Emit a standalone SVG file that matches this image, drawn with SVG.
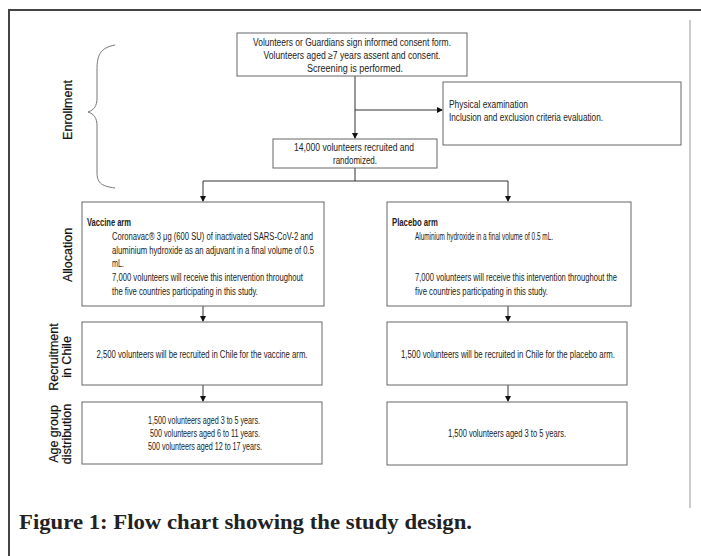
<svg xmlns="http://www.w3.org/2000/svg" width="701" height="556" viewBox="0 0 701 556">
<style>
.box{fill:#fff;stroke:#666;stroke-width:1}
.ln{fill:none;stroke:#333;stroke-width:1}
.t{font-family:"Liberation Sans",Arial,sans-serif;font-size:10px;fill:#222}
.c{text-anchor:middle}
.b{font-weight:bold}
.side{font-family:"Liberation Sans",Arial,sans-serif;font-size:12.5px;fill:#111;text-anchor:middle;stroke:#111;stroke-width:0.2}
.cap{font-family:"Liberation Serif","Times New Roman",serif;font-size:21px;font-weight:bold;fill:#222}
</style>
<defs>
<marker id="ar" markerWidth="6" markerHeight="6" refX="5" refY="3" orient="auto" markerUnits="userSpaceOnUse">
<path d="M0,0 L6,3 L0,6 Z" fill="#111"/>
</marker>
</defs>
<rect width="701" height="556" fill="#fff"/>
<g id="frame">
<path d="M9,556 V10 H701" fill="none" stroke="#444" stroke-width="2"/>
<path d="M690,20 V508" fill="none" stroke="#999" stroke-width="1"/>
</g>
<g id="labels">
<path d="M115,45 C100,48 97,55 97,70 V98 C97,106 94,110 88,112 C94,114 97,118 97,126 V172 C97,182 100,186 115,188" fill="none" stroke="#777" stroke-width="1"/>
<text class="side" transform="translate(72,110) rotate(-90)">Enrollment</text>
<text class="side" transform="translate(72,255) rotate(-90)">Allocation</text>
<text class="side" transform="translate(58,357) rotate(-90)">Recruitment</text>
<text class="side" transform="translate(71,357) rotate(-90)">in Chile</text>
<text class="side" transform="translate(58,434) rotate(-90)">Age group</text>
<text class="side" transform="translate(71,434) rotate(-90)">distribution</text>
</g>
<g id="connectors">
<path class="ln" d="M355,76 V138" marker-end="url(#ar)"/>
<path class="ln" d="M355,110 H442" marker-end="url(#ar)"/>
<path class="ln" d="M355,168 V181 M203,181 H508"/>
<path class="ln" d="M203,181 V201" marker-end="url(#ar)"/>
<path class="ln" d="M508,181 V201" marker-end="url(#ar)"/>
<path class="ln" d="M203,306 V321" marker-end="url(#ar)"/>
<path class="ln" d="M508,306 V321" marker-end="url(#ar)"/>
<path class="ln" d="M203,385 V401" marker-end="url(#ar)"/>
<path class="ln" d="M508,385 V401" marker-end="url(#ar)"/>
</g>
<g id="consent">
<rect class="box" x="237" y="33" width="230" height="43"/>
<text class="t c" x="352" y="46" textLength="198" lengthAdjust="spacingAndGlyphs">Volunteers or Guardians sign informed consent form.</text>
<text class="t c" x="352" y="59" textLength="177" lengthAdjust="spacingAndGlyphs">Volunteers aged ≥7 years assent and consent.</text>
<text class="t c" x="355" y="72" textLength="96" lengthAdjust="spacingAndGlyphs">Screening is performed.</text>
</g>
<g id="physical">
<rect class="box" x="443" y="82" width="238" height="63"/>
<text class="t" x="449" y="108" textLength="79" lengthAdjust="spacingAndGlyphs">Physical examination</text>
<text class="t" x="449" y="121" textLength="154" lengthAdjust="spacingAndGlyphs">Inclusion and exclusion criteria evaluation.</text>
</g>
<g id="randomized">
<rect class="box" x="273" y="139" width="164" height="29"/>
<text class="t c" x="354" y="151" textLength="120" lengthAdjust="spacingAndGlyphs">14,000 volunteers recruited and</text>
<text class="t c" x="355" y="164" textLength="44" lengthAdjust="spacingAndGlyphs">randomized.</text>
</g>
<g id="vaccine">
<rect class="box" x="82" y="202" width="242" height="104"/>
<text class="t b" x="87" y="226" textLength="44" lengthAdjust="spacingAndGlyphs">Vaccine arm</text>
<text class="t" x="112" y="240" textLength="201" lengthAdjust="spacingAndGlyphs">Coronavac® 3 μg (600 SU) of inactivated SARS-CoV-2 and</text>
<text class="t" x="112" y="254" textLength="202" lengthAdjust="spacingAndGlyphs">aluminium hydroxide as an adjuvant in a final volume of 0.5</text>
<text class="t" x="112" y="267" textLength="12" lengthAdjust="spacingAndGlyphs">mL.</text>
<text class="t" x="112" y="281" textLength="191" lengthAdjust="spacingAndGlyphs">7,000 volunteers will receive this intervention throughout</text>
<text class="t" x="112" y="295" textLength="146" lengthAdjust="spacingAndGlyphs">the five countries participating in this study.</text>
</g>
<g id="placebo">
<rect class="box" x="387" y="202" width="244" height="104"/>
<text class="t b" x="392" y="226" textLength="46" lengthAdjust="spacingAndGlyphs">Placebo arm</text>
<text class="t" x="415" y="240" textLength="138" lengthAdjust="spacingAndGlyphs">Aluminium hydroxide in a final volume of 0.5 mL.</text>
<text class="t" x="415" y="281" textLength="202" lengthAdjust="spacingAndGlyphs">7,000 volunteers will receive this intervention throughout the</text>
<text class="t" x="415" y="295" textLength="133" lengthAdjust="spacingAndGlyphs">five countries participating in this study.</text>
</g>
<g id="chile-vaccine">
<rect class="box" x="82" y="322" width="240" height="63"/>
<text class="t c" x="202" y="358" textLength="211" lengthAdjust="spacingAndGlyphs">2,500 volunteers will be recruited in Chile for the vaccine arm.</text>
</g>
<g id="chile-placebo">
<rect class="box" x="387" y="322" width="240" height="63"/>
<text class="t c" x="508" y="358" textLength="214" lengthAdjust="spacingAndGlyphs">1,500 volunteers will be recruited in Chile for the placebo arm.</text>
</g>
<g id="age-vaccine">
<rect class="box" x="82" y="402" width="240" height="62"/>
<text class="t c" x="204" y="424" textLength="112" lengthAdjust="spacingAndGlyphs">1,500 volunteers aged 3 to 5 years.</text>
<text class="t c" x="205" y="437" textLength="110" lengthAdjust="spacingAndGlyphs">500 volunteers aged 6 to 11 years.</text>
<text class="t c" x="205" y="450" textLength="114" lengthAdjust="spacingAndGlyphs">500 volunteers aged 12 to 17 years.</text>
</g>
<g id="age-placebo">
<rect class="box" x="387" y="402" width="240" height="63"/>
<text class="t c" x="507" y="437" textLength="118" lengthAdjust="spacingAndGlyphs">1,500 volunteers aged 3 to 5 years.</text>
</g>
<text class="cap" x="19" y="529" textLength="453" lengthAdjust="spacingAndGlyphs">Figure 1: Flow chart showing the study design.</text>
</svg>
